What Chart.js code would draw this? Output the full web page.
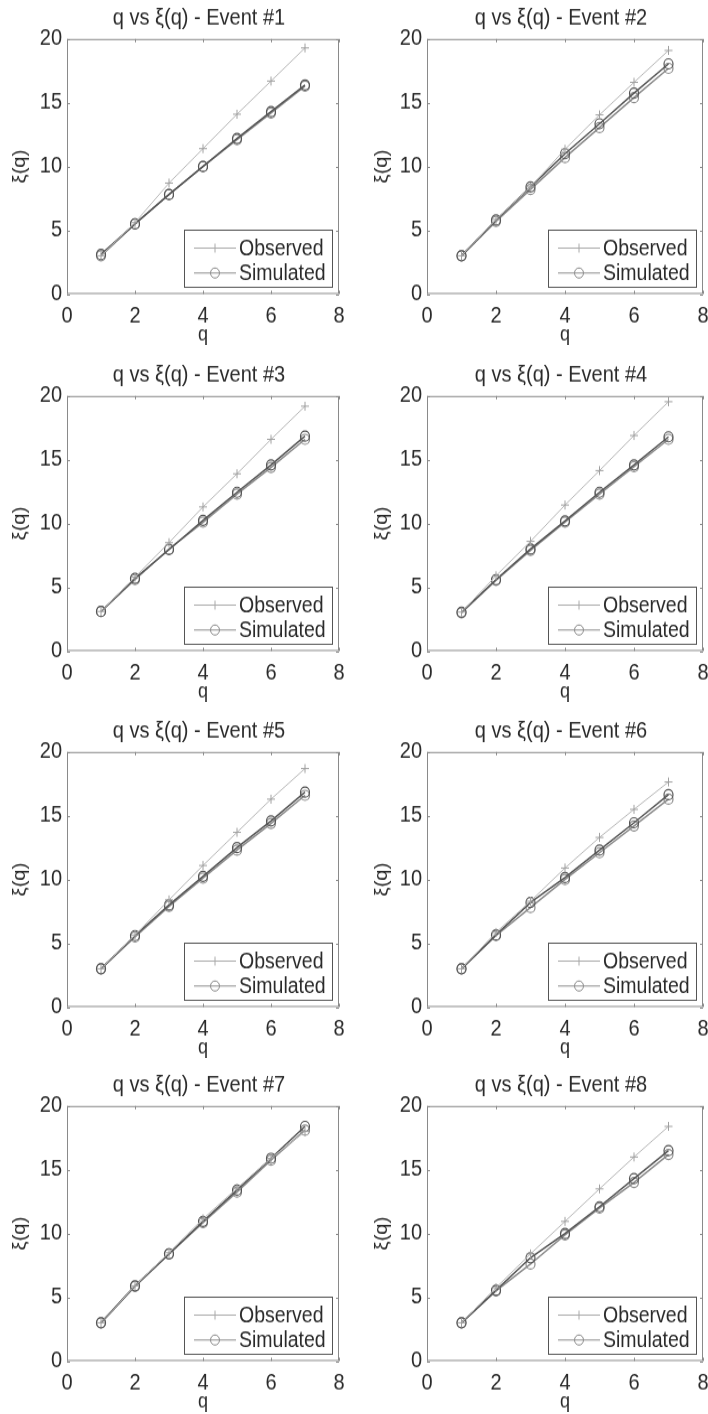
<!DOCTYPE html>
<html>
<head>
<meta charset="utf-8">
<script src="https://cdn.jsdelivr.net/npm/chart.js@4.4.1/dist/chart.umd.min.js"></script>
<style>
  body { margin: 0; background: #fff; width: 708px; height: 1414px; position: relative; overflow: hidden; }
  .panel { position: absolute; height: 308px; transform: scaleY(1.12); transform-origin: 0 0; }
</style>
</head>
<body>
<script>
// q values and axis ticks
const qValues = [1, 2, 3, 4, 5, 6, 7];
const xTicks = [0, 2, 4, 6, 8];
const yTicks = [0, 5, 10, 15, 20];

// one set per event
const obs1  = [3.0, 5.6, 8.7, 11.4, 14.1, 16.7, 19.3];
const simA1 = [3.1, 5.5, 7.8, 10.0, 12.2, 14.3, 16.4];
const simB1 = [3.0, 5.5, 7.8, 10.0, 12.1, 14.2, 16.3];

const obs2  = [3.0, 5.85, 8.4, 11.35, 14.05, 16.6, 19.1];
const simA2 = [3.0, 5.8, 8.4, 11.0, 13.35, 15.75, 18.05];
const simB2 = [3.0, 5.7, 8.2, 10.7, 13.05, 15.4, 17.7];

const obs3  = [3.1, 5.8, 8.5, 11.3, 13.9, 16.6, 19.2];
const simA3 = [3.1, 5.7, 7.95, 10.25, 12.45, 14.6, 16.85];
const simB3 = [3.1, 5.6, 8.0, 10.1, 12.3, 14.4, 16.6];

const obs4  = [3.05, 5.9, 8.6, 11.45, 14.15, 16.9, 19.55];
const simA4 = [3.05, 5.6, 8.0, 10.2, 12.45, 14.6, 16.8];
const simB4 = [3.0, 5.55, 7.9, 10.1, 12.3, 14.45, 16.6];

const obs5  = [3.0, 5.65, 8.4, 11.1, 13.7, 16.3, 18.7];
const simA5 = [3.0, 5.6, 8.0, 10.25, 12.5, 14.6, 16.85];
const simB5 = [3.0, 5.5, 7.9, 10.1, 12.3, 14.4, 16.6];

const obs6  = [3.0, 5.85, 8.3, 10.9, 13.3, 15.5, 17.65];
const simA6 = [3.0, 5.65, 8.2, 10.15, 12.3, 14.45, 16.65];
const simB6 = [3.0, 5.6, 7.8, 10.0, 12.1, 14.2, 16.3];

const obs7  = [3.0, 5.9, 8.5, 11.15, 13.55, 15.9, 18.0];
const simA7 = [3.0, 5.9, 8.4, 10.95, 13.4, 15.9, 18.4];
const simB7 = [3.0, 5.85, 8.4, 10.85, 13.25, 15.75, 18.1];

const obs8  = [3.0, 5.75, 8.4, 10.95, 13.5, 16.0, 18.4];
const simA8 = [3.0, 5.55, 8.1, 10.0, 12.1, 14.3, 16.5];
const simB8 = [3.0, 5.5, 7.6, 9.9, 12.0, 14.0, 16.2];

const titles = ['q vs \u03be(q) - Event #1', 'q vs \u03be(q) - Event #2', 'q vs \u03be(q) - Event #3', 'q vs \u03be(q) - Event #4',
                'q vs \u03be(q) - Event #5', 'q vs \u03be(q) - Event #6', 'q vs \u03be(q) - Event #7', 'q vs \u03be(q) - Event #8'];
const observed = [obs1, obs2, obs3, obs4, obs5, obs6, obs7, obs8];
const simulatedA = [simA1, simA2, simA3, simA4, simA5, simA6, simA7, simA8];
const simulatedB = [simB1, simB2, simB3, simB4, simB5, simB6, simB7, simB8];

const FONT = '"Liberation Sans", Arial, sans-serif';
const TEXT = '#2a2a2a';
const rowTops = [0, 357, 713, 1067];

function pts(arr) {
  return qValues.map((q, i) => ({ x: q, y: arr[i] }));
}

function drawMarker(ctx, style, x, y, r, color) {
  ctx.save();
  ctx.strokeStyle = color;
  ctx.lineWidth = 1;
  ctx.beginPath();
  if (style === 'cross') {
    ctx.moveTo(x - r, y); ctx.lineTo(x + r, y);
    ctx.moveTo(x, y - r); ctx.lineTo(x, y + r);
  } else {
    ctx.arc(x, y, r, 0, Math.PI * 2);
  }
  ctx.stroke();
  ctx.restore();
}

// box, inward ticks, title and legend in matlab style
const framePlugin = {
  id: 'frame',
  beforeDatasetsDraw(chart) {
    const { ctx, chartArea: a, scales } = chart;
    ctx.save();
    ctx.strokeStyle = '#8a8a8a';
    ctx.lineWidth = 1;
    ctx.strokeRect(a.left + 0.5, a.top + 0.5, a.right - a.left - 1, a.bottom - a.top - 1);
    ctx.beginPath();
    xTicks.forEach(v => {
      const px = Math.round(scales.x.getPixelForValue(v)) + 0.5;
      ctx.moveTo(px, a.bottom); ctx.lineTo(px, a.bottom - 3);
      ctx.moveTo(px, a.top); ctx.lineTo(px, a.top + 3);
    });
    yTicks.forEach(v => {
      const py = Math.round(scales.y.getPixelForValue(v)) + 0.5;
      ctx.moveTo(a.left, py); ctx.lineTo(a.left + 3, py);
      ctx.moveTo(a.right, py); ctx.lineTo(a.right - 3, py);
    });
    ctx.stroke();
    ctx.restore();
  },
  afterDatasetsDraw(chart) {
    const { ctx, chartArea: a } = chart;
    const ds = chart.data.datasets;
    const w = 148, h = 51;
    const left = a.right - 7 - w, top = a.bottom - 6.25 - h;
    ctx.save();
    ctx.fillStyle = '#fff';
    ctx.fillRect(left, top, w, h);
    ctx.strokeStyle = '#555';
    ctx.lineWidth = 1;
    ctx.strokeRect(Math.round(left) + 0.5, Math.round(top) + 0.5, w, h);
    const rows = [a.bottom - 41, a.bottom - 18.75];
    ctx.font = '19.5px ' + FONT;
    ctx.textBaseline = 'middle';
    ctx.fillStyle = TEXT;
    [0, 1].forEach(i => {
      const d = ds[i];
      const y = rows[i];
      ctx.strokeStyle = d.legendColor;
      ctx.lineWidth = 1;
      ctx.beginPath();
      ctx.moveTo(left + 10, y); ctx.lineTo(left + 52, y);
      ctx.stroke();
      drawMarker(ctx, d.pointStyle, left + 31, y, i === 0 ? 4 : 4.5, d.legendColor);
      ctx.fillText(d.label, left + 55, y + 1);
    });
    ctx.restore();
  },
  afterDraw(chart, args, opts) {
    const { ctx, chartArea: a } = chart;
    ctx.save();
    ctx.font = '20px ' + FONT;
    ctx.fillStyle = TEXT;
    ctx.textAlign = 'center';
    ctx.textBaseline = 'middle';
    ctx.fillText(opts.text, (a.left + a.right) / 2 - 4, 16.5);
    ctx.restore();
  }
};

function makeChart(i) {
  const col = i % 2, row = Math.floor(i / 2);
  const div = document.createElement('div');
  div.className = 'panel';
  div.style.left = (col * 354) + 'px';
  div.style.top = rowTops[row] + 'px';
  div.style.width = (col === 0 ? 354 : 364) + 'px';
  const cv = document.createElement('canvas');
  div.appendChild(cv);
  document.body.appendChild(div);

  const yAxisW = col === 0 ? 67 : 73;
  const tickFont = { family: FONT, size: 20 };

  new Chart(cv, {
    type: 'line',
    data: {
      datasets: [
        {
          label: 'Observed', data: pts(observed[i]),
          borderColor: '#b8b8b8', borderWidth: 1,
          pointStyle: 'cross', pointRadius: 4, pointBorderColor: '#a0a0a0', pointBorderWidth: 1,
          legendColor: '#a8a8a8'
        },
        {
          label: 'Simulated', data: pts(simulatedA[i]),
          borderColor: '#555', borderWidth: 1.5,
          pointStyle: 'circle', pointRadius: 4.5, pointBackgroundColor: 'rgba(0,0,0,0)',
          pointBorderColor: '#555', pointBorderWidth: 1.2,
          legendColor: '#8c8c8c'
        },
        {
          label: 'Simulated', data: pts(simulatedB[i]),
          borderColor: '#8a8a8a', borderWidth: 1.5,
          pointStyle: 'circle', pointRadius: 4.5, pointBackgroundColor: 'rgba(0,0,0,0)',
          pointBorderColor: '#8a8a8a', pointBorderWidth: 1.2
        }
      ]
    },
    options: {
      animation: false,
      responsive: true,
      maintainAspectRatio: false,
      layout: { padding: { top: 34.8, right: 15, left: 0, bottom: 0 } },
      plugins: {
        legend: { display: false },
        tooltip: { enabled: false },
        frame: { text: titles[i] }
      },
      scales: {
        x: {
          type: 'linear', min: 0, max: 8,
          afterBuildTicks: s => { s.ticks = xTicks.map(v => ({ value: v })); },
          grid: { display: false, drawTicks: false }, border: { display: false },
          ticks: { font: tickFont, color: TEXT, padding: 8, maxRotation: 0, autoSkip: false },
          title: { display: true, text: 'q', color: TEXT, font: { family: FONT, size: 18, lineHeight: 1 }, padding: { top: 8, bottom: 0 } },
          afterFit: s => { s.height = 45.5; }
        },
        y: {
          type: 'linear', min: 0, max: 20,
          afterBuildTicks: s => { s.ticks = yTicks.map(v => ({ value: v })); },
          grid: { display: false, drawTicks: false }, border: { display: false },
          ticks: { font: tickFont, color: TEXT, padding: 5, autoSkip: false },
          title: { display: true, text: '\u03be(q)', color: TEXT, font: { family: FONT, size: 18, lineHeight: 1 }, padding: { top: col === 0 ? 11 : 19, bottom: 0 } },
          afterFit: s => { s.width = yAxisW; }
        }
      }
    },
    plugins: [framePlugin]
  });
}

for (let i = 0; i < 8; i++) makeChart(i);
</script>
</body>
</html>
